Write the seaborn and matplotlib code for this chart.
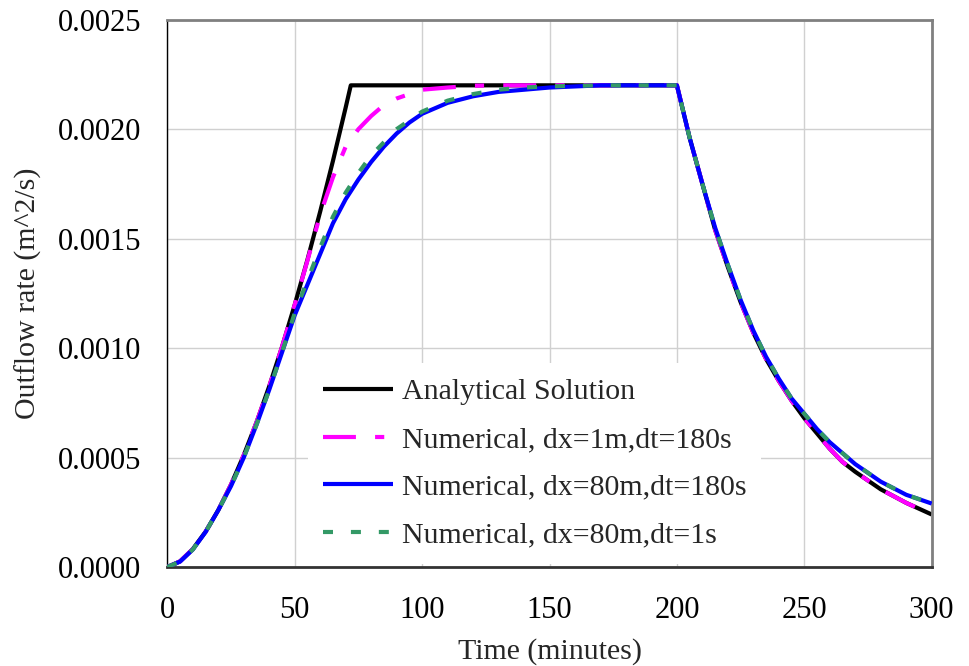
import numpy as np
import pandas as pd
import matplotlib
matplotlib.use("Agg")
import matplotlib.pyplot as plt
import seaborn as sns
from matplotlib.ticker import FormatStrFormatter

# ---------------- data ----------------
t_ana = [0, 5, 10, 15, 20, 25, 30, 35, 40, 45, 50, 55, 60, 65, 70, 72,
         200, 205, 210, 215, 220, 225, 230, 235, 240, 245, 250, 255, 260,
         265, 270, 280, 290, 300]
q_ana = [0.0, 0.000026, 0.000082, 0.000161, 0.00026, 0.000377, 0.000511,
         0.000661, 0.000826, 0.001005, 0.001198, 0.001404, 0.001624,
         0.001855, 0.002099, 0.0022,
         0.0022, 0.00196, 0.00175, 0.00154, 0.00137, 0.00121, 0.00107,
         0.00095, 0.00085, 0.00076, 0.00068, 0.00061, 0.00054, 0.00048,
         0.000435, 0.000355, 0.000293, 0.00024]

t_m1 = [0, 5, 10, 15, 20, 25, 30, 35, 40, 45, 50, 55, 60, 65, 70, 75, 80,
        85, 90, 95, 100, 110, 120, 130,
        200, 205, 210, 215, 220, 225, 230, 235, 240, 245, 250, 255, 260,
        265, 270, 280, 290, 300]
q_m1 = [0.0, 0.000026, 0.000082, 0.000161, 0.00026, 0.000377, 0.000511,
        0.000661, 0.000826, 0.001005, 0.001198, 0.0014, 0.00161, 0.00178,
        0.00192, 0.0020, 0.00206, 0.00211, 0.00214, 0.00216, 0.00218,
        0.00219, 0.002198, 0.0022,
        0.0022, 0.00196, 0.00175, 0.00154, 0.00137, 0.00121, 0.00107,
        0.00095, 0.00085, 0.00076, 0.00068, 0.00061, 0.00054, 0.00048,
        0.000435, 0.000355, 0.000293, 0.00024]

t_n80 = [0, 5, 10, 15, 20, 25, 30, 35, 40, 45, 50, 55, 60, 65, 70, 75, 80,
         85, 90, 95, 100, 110, 120, 130, 140, 150, 170,
         200, 205, 210, 215, 220, 225, 230, 235, 240, 245, 250, 255, 260,
         265, 270, 280, 290, 300]
q_n80_180 = [0.0, 0.000025, 0.00008, 0.00016, 0.00026, 0.00037, 0.0005,
             0.00065, 0.00081, 0.00098, 0.00115, 0.00129, 0.00143, 0.00157,
             0.00168, 0.00177, 0.00185, 0.00192, 0.00198, 0.00203, 0.00207,
             0.00212, 0.00215, 0.00217, 0.00218, 0.00219, 0.0022,
             0.0022, 0.00196, 0.00175, 0.00155, 0.00138, 0.00122, 0.00108,
             0.00096, 0.00086, 0.00077, 0.0007, 0.00063, 0.00057, 0.00052,
             0.00047, 0.00039, 0.00033, 0.00029]
q_n80_1 = [0.0, 0.000025, 0.00008, 0.00016, 0.00026, 0.00037, 0.0005,
           0.00065, 0.00081, 0.00098, 0.00116, 0.00131, 0.00146, 0.0016,
           0.00171, 0.0018, 0.00188, 0.00194, 0.002, 0.00204, 0.00208,
           0.00213, 0.00216, 0.00218, 0.00219, 0.002195, 0.0022,
           0.0022, 0.00196, 0.00175, 0.00155, 0.00138, 0.00122, 0.00108,
           0.00096, 0.00086, 0.00077, 0.0007, 0.00063, 0.00057, 0.00052,
           0.00047, 0.00039, 0.00033, 0.00029]

labels = ["Analytical Solution",
          "Numerical, dx=1m,dt=180s",
          "Numerical, dx=80m,dt=180s",
          "Numerical, dx=80m,dt=1s"]
x_ticks = [0, 50, 100, 150, 200, 250, 300]
y_ticks = [0.0, 0.0005, 0.0010, 0.0015, 0.0020, 0.0025]

# ---------------- style ----------------
sns.set_style("white")
plt.rcParams["font.family"] = ["Liberation Serif", "DejaVu Serif"]
FS = 21.5
FS_TICK = 22

fig = plt.figure(figsize=(9.69, 6.66), dpi=100)
ax = fig.add_axes([0.1727, 0.1486, 0.7888, 0.8219])

series = [
    (t_ana, q_ana, labels[0], "#000000", "-"),
    (t_m1, q_m1, labels[1], "#FF00FF", (0, (7.9, 4.6, 2.2, 4.6))),
    (t_n80, q_n80_180, labels[2], "#0000FF", "-"),
    (t_n80, q_n80_1, labels[3], "#339966", (0, (2.4, 4.3))),
]
for i, (tt, qq, lab, col, ls) in enumerate(series):
    sns.lineplot(x=tt, y=qq, ax=ax, color=col, linestyle=ls, lw=3,
                 label=lab, sort=False, dash_capstyle="butt",
                 solid_capstyle="butt", zorder=2 + i)

ax.set_xlim(0, 300)
ax.set_ylim(0, 0.0025)
ax.set_xticks(x_ticks)
ax.set_yticks(y_ticks)
ax.yaxis.set_major_formatter(FormatStrFormatter("%.4f"))

ax.set_axisbelow(True)
ax.grid(True, color="#d0d0d0", lw=1)

for s in ["top", "right"]:
    ax.spines[s].set_color("#808080")
    ax.spines[s].set_linewidth(2)
ax.spines["left"].set_color("black")
ax.spines["left"].set_linewidth(1)
ax.spines["bottom"].set_color("#333333")
ax.spines["bottom"].set_linewidth(2)

ax.tick_params(axis="both", direction="out", length=7, width=1,
               color="black", labelsize=FS_TICK, labelcolor="black")
ax.tick_params(axis="y", pad=12)
ax.tick_params(axis="x", pad=14)

ax.set_xlabel("Time (minutes)", fontsize=FS)
ax.set_ylabel("Outflow rate (m^2/s)", fontsize=FS)
ax.xaxis.set_label_coords(0.5, -0.13)
ax.yaxis.set_label_coords(-0.164, 0.5)

leg = ax.legend(loc="upper left", bbox_to_anchor=(0.1845, 0.372),
                frameon=True, fancybox=False, edgecolor="none",
                facecolor="white", framealpha=1, fontsize=FS,
                handlelength=2.35, handletextpad=0.27, labelspacing=0.70,
                borderpad=0.5, borderaxespad=0)

fig.savefig("out.png", dpi=100)
